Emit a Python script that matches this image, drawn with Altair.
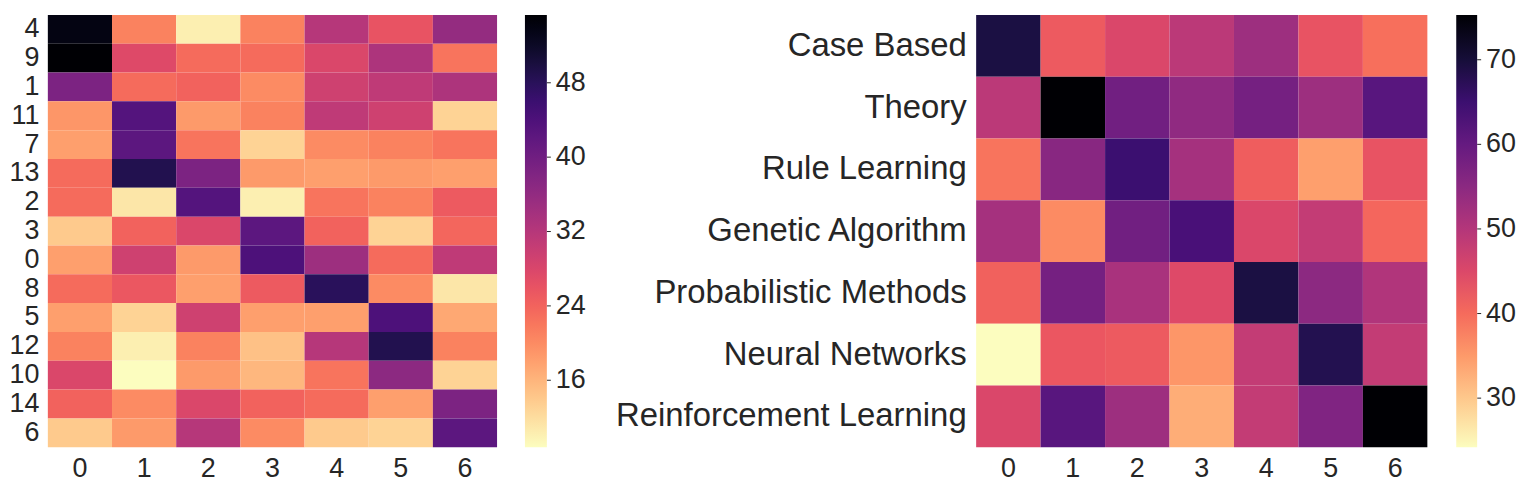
import altair as alt
import pandas as pd

# ---- left heatmap data ----
left_rows = ["4", "9", "1", "11", "7", "13", "2", "3", "0", "8", "5", "12", "10", "14", "6"]
left_cols = ["0", "1", "2", "3", "4", "5", "6"]
left_values = [
    [53.9, 20.9, 10.2, 20.9, 32.0, 26.0, 35.8],
    [55.3, 27.4, 23.2, 23.2, 27.9, 33.0, 22.3],
    [38.6, 23.2, 24.1, 20.0, 29.3, 31.1, 33.0],
    [19.0, 43.2, 18.6, 20.9, 31.1, 29.3, 13.0],
    [18.1, 42.3, 22.3, 13.0, 20.0, 20.9, 22.3],
    [23.2, 48.8, 38.6, 18.6, 18.1, 18.6, 18.1],
    [23.2, 11.1, 43.2, 10.2, 22.3, 20.9, 25.1],
    [13.9, 24.1, 27.9, 42.3, 24.1, 13.0, 23.7],
    [18.1, 29.3, 18.6, 44.1, 34.8, 23.2, 31.1],
    [23.2, 25.5, 18.1, 25.1, 47.9, 20.0, 11.1],
    [18.1, 13.0, 29.3, 18.1, 18.1, 44.1, 17.2],
    [20.9, 10.2, 20.9, 14.8, 32.0, 48.8, 20.9],
    [27.9, 8.8, 18.6, 15.8, 22.3, 36.7, 13.0],
    [24.1, 20.0, 27.9, 24.1, 23.2, 18.1, 38.6],
    [13.9, 18.6, 32.0, 20.0, 13.9, 13.0, 42.3],
]
left_ticks = [16, 24, 32, 40, 48]

# ---- right heatmap data ----
right_rows = ["Case Based", "Theory", "Rule Learning", "Genetic Algorithm",
              "Probabilistic Methods", "Neural Networks", "Reinforcement Learning"]
right_cols = ["0", "1", "2", "3", "4", "5", "6"]
right_values = [
    [69.2, 42.1, 45.2, 49.2, 52.8, 43.1, 39.5],
    [49.2, 75.3, 58.4, 54.4, 57.9, 52.8, 61.5],
    [39.0, 55.4, 65.1, 51.8, 41.6, 34.4, 43.1],
    [51.8, 36.5, 58.4, 63.5, 45.2, 48.2, 40.5],
    [41.1, 57.9, 51.3, 44.6, 69.2, 54.9, 50.3],
    [24.2, 42.6, 42.1, 35.4, 48.2, 68.1, 48.2],
    [45.2, 61.5, 52.8, 32.9, 48.2, 56.4, 75.3],
]
right_ticks = [30, 40, 50, 60, 70]

FONT = "Liberation Sans"
TXT = "#262626"
TICK_FS = 27


def to_df(rows, cols, vals):
    recs = []
    for r, row in zip(rows, vals):
        for c, v in zip(cols, row):
            recs.append({"row": r, "col": c, "v": v})
    return pd.DataFrame(recs)


left_df = to_df(left_rows, left_cols, left_values)
right_df = to_df(right_rows, right_cols, right_values)


def heat(df, rows, cols, ticks, w, h, ylab_size, y_extent, ylab_pad, thickness, offset):
    vmin = float(df["v"].min())
    vmax = float(df["v"].max())
    rects = alt.Chart(df).mark_rect(strokeWidth=0).encode(
        x=alt.X("col:N", sort=cols, title=None,
                axis=alt.Axis(labelAngle=0, ticks=False, domain=False, labelFont=FONT,
                              labelFontSize=TICK_FS, labelColor=TXT, labelPadding=8)),
        y=alt.Y("row:N", sort=rows, title=None,
                axis=alt.Axis(ticks=False, domain=False, labelFont=FONT,
                              labelFontSize=ylab_size, labelColor=TXT, labelPadding=ylab_pad,
                              labelLimit=500, minExtent=y_extent, maxExtent=y_extent)),
        color=alt.Color("v:Q",
                        scale=alt.Scale(scheme="magma", reverse=True, domain=[vmin, vmax]),
                        legend=alt.Legend(title=None, values=ticks, gradientLength=h,
                                          gradientThickness=thickness, offset=offset,
                                          labelFont=FONT, labelFontSize=TICK_FS, labelColor=TXT,
                                          labelOffset=9, gradientStrokeWidth=0)),
    )
    # small tick marks on the colour bar, as matplotlib draws them
    tick_df = pd.DataFrame({"t": ticks})
    x0 = w + offset + thickness
    cbar_ticks = alt.Chart(tick_df).mark_rule(color=TXT, strokeWidth=1).encode(
        x=alt.value(x0),
        x2=alt.value(x0 + 4),
        y=alt.Y("t:Q", scale=alt.Scale(domain=[vmin, vmax]), axis=None),
    )
    return alt.layer(rects, cbar_ticks).resolve_scale(y="independent").properties(
        width=w, height=h)


left = heat(left_df, left_rows, left_cols, left_ticks, 451, 434, TICK_FS, 39, 9, 22, 28)
right = heat(right_df, right_rows, right_cols, right_ticks, 453, 434, 33, 363, 10, 21, 29)

chart = alt.hconcat(left, right, spacing=28).resolve_scale(color="independent").configure_view(
    strokeWidth=0
).properties(padding={"left": 0, "top": 5, "right": 0, "bottom": 0})

chart.save("out.html", embed_options={"renderer": "svg", "actions": False})
